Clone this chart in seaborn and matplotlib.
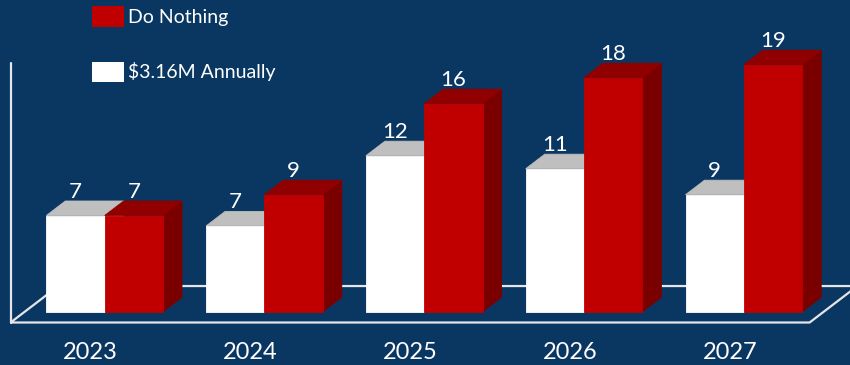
import matplotlib
matplotlib.use("Agg")
import matplotlib.pyplot as plt
from matplotlib.patches import Polygon, Patch
import pandas as pd
import seaborn as sns

# ---- data -------------------------------------------------------------
years = ["2023", "2024", "2025", "2026", "2027"]
annual_plan = [7.4, 6.6, 12, 11, 9]      # $3.16M Annually
do_nothing = [7.4, 9, 16, 18, 19]         # Do Nothing
series_names = ["$3.16M Annually", "Do Nothing"]
wall_top = 20

# ---- style ------------------------------------------------------------
BG = "#0A3761"
LINE = "#E4E6EA"
FRONT = {"$3.16M Annually": "#FFFFFF", "Do Nothing": "#C00000"}
TOP = {"$3.16M Annually": "#BFBFBF", "Do Nothing": "#900000"}
SIDE = {"$3.16M Annually": "#D0D0D0", "Do Nothing": "#7A0000"}

sns.set_theme(style="white")
plt.rcParams["font.family"] = ["Lato", "DejaVu Sans"]

W, H = 850, 365
fig = plt.figure(figsize=(W / 100, H / 100), dpi=100, facecolor=BG)
ax = fig.add_axes([0, 0, 1, 1], facecolor=BG)

df = pd.DataFrame({
    "year": years * 2,
    "value": annual_plan + do_nothing,
    "scenario": [series_names[0]] * len(years) + [series_names[1]] * len(years),
})

sns.barplot(data=df, x="year", y="value", hue="scenario", hue_order=series_names,
            order=years, palette=FRONT, width=0.73, gap=0, saturation=1,
            errorbar=None, legend=False, linewidth=0, ax=ax)

# axis scale: pixels per category / per unit
PX_X, PX_Y = 159.8, 13.0
xmin = -0.655
ymin = -4.1
ax.set_xlim(xmin, xmin + W / PX_X)
ax.set_ylim(ymin, ymin + H / PX_Y)
ax.set_axis_off()

# oblique depth direction of the pseudo-3D projection
DX, DY = 19 / PX_X, 14.5 / PX_Y


def shift(x, y, d):
    return x + d * DX, y + d * DY


# floor and wall edge
FRONT_D, BACK_D = -0.745, 1.77
x0, x1 = -0.5, len(years) - 0.5
floor = [shift(x0, 0, FRONT_D), shift(x1, 0, FRONT_D),
         shift(x1, 0, BACK_D), shift(x0, 0, BACK_D)]
ax.add_patch(Polygon(floor, closed=True, fill=False, edgecolor=LINE,
                     linewidth=1.6, zorder=1))
wx, wy0 = shift(x0, 0, FRONT_D)
ax.plot([wx, wx], [wy0, wy0 + wall_top], color=LINE, linewidth=1.6, zorder=1)

# extruded bars: front faces from seaborn, top and side faces added
for k, (name, cont) in enumerate(zip(series_names, ax.containers)):
    z = 2 + k
    for bar in cont:
        bx, by = bar.get_x(), bar.get_y()
        bw, bh = bar.get_width(), bar.get_height()
        bar.set_zorder(z + 0.2)
        bar.set_edgecolor(FRONT[name])
        bar.set_linewidth(0.6)
        top = [(bx, by + bh), (bx + bw, by + bh),
               shift(bx + bw, by + bh, 1), shift(bx, by + bh, 1)]
        side = [(bx + bw, by), shift(bx + bw, by, 1),
                shift(bx + bw, by + bh, 1), (bx + bw, by + bh)]
        ax.add_patch(Polygon(top, closed=True, facecolor=TOP[name],
                             edgecolor=TOP[name], linewidth=0.6, zorder=z + 0.1))
        ax.add_patch(Polygon(side, closed=True, facecolor=SIDE[name],
                             edgecolor=SIDE[name], linewidth=0.6, zorder=z))
        ax.annotate(f"{bh:.0f}", xy=(bx + bw / 2, by + bh + DY),
                    xytext=(0, 3), textcoords="offset pixels",
                    ha="center", va="baseline", color="white",
                    fontsize=16, zorder=5)

# category labels along the front edge of the floor
for i, yr in enumerate(years):
    lx, ly = shift(i, 0, FRONT_D)
    ax.annotate(yr, xy=(lx, ly), xytext=(0, -30), textcoords="offset pixels",
                ha="center", va="center", color="white", fontsize=17)

# legend
handles = [Patch(facecolor=FRONT[n], edgecolor="none") for n in series_names[::-1]]
labels = [n.replace("$", r"\$") for n in series_names[::-1]]
fig.legend(handles, labels, loc="upper left", bbox_to_anchor=(92 / W, 1 - 6 / H),
           frameon=False, fontsize=14, handlelength=1.65, handleheight=1.25,
           labelspacing=1.8, handletextpad=0.2, borderpad=0, borderaxespad=0,
           labelcolor="white")

fig.savefig("out.png", dpi=100, facecolor=BG)
